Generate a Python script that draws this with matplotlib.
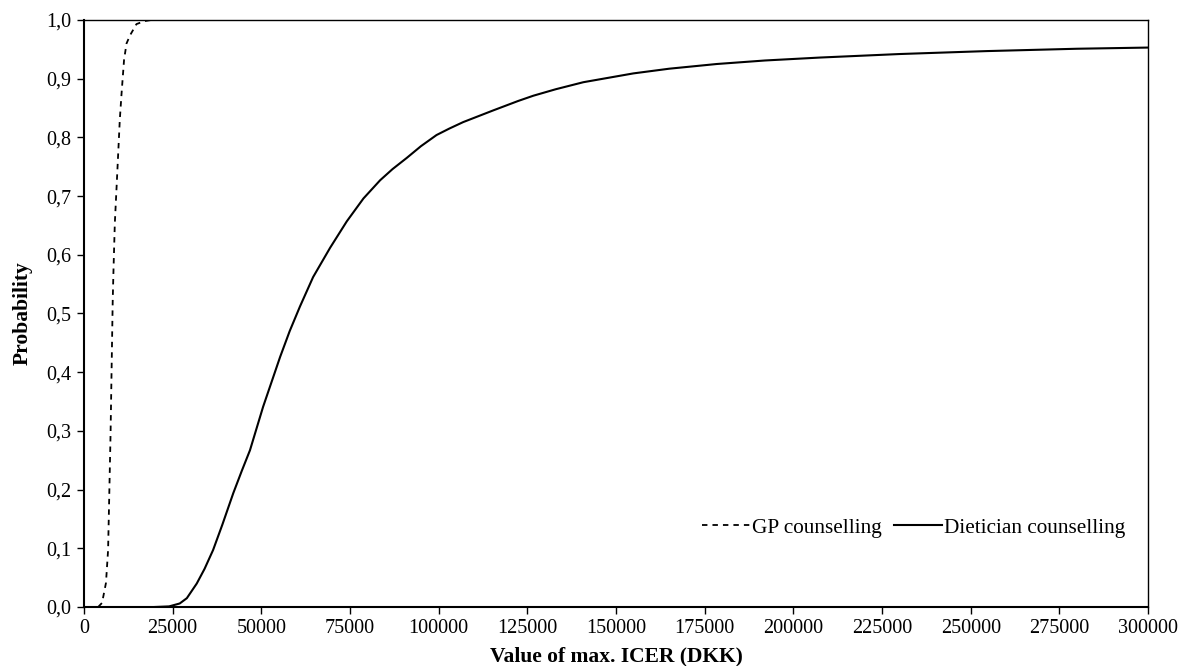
import numpy as np
import matplotlib.pyplot as plt
from matplotlib.ticker import FuncFormatter

# GP counselling acceptability curve
gp_x = [4000, 5100, 6200, 6800, 7100, 7500, 7800, 8100, 8300, 8700, 9200,
        9700, 10100, 10600, 11300, 12000, 13000, 14800, 17000, 19000, 20000]
gp_y = [0.0, 0.007, 0.041, 0.097, 0.182, 0.296, 0.409, 0.52, 0.569, 0.654, 0.716,
        0.779, 0.83, 0.875, 0.932, 0.96, 0.974, 0.993, 0.998, 1.0, 1.0]

# Dietician counselling acceptability curve
diet_x = [20000, 24000, 27000, 29000, 31800, 34000, 36400, 39000, 42100, 44500,
          46800, 50500, 55300, 58000, 60900, 64600, 69400, 74100, 78800, 83500,
          87000, 91000, 95000, 99400, 103000, 106900, 115400, 122400, 126700,
          133000, 140800, 154900, 165000, 178400, 192000, 207500, 230000,
          254500, 280000, 300000]
diet_y = [0.0, 0.001, 0.006, 0.015, 0.04, 0.065, 0.097, 0.14, 0.194, 0.232,
          0.267, 0.341, 0.426, 0.47, 0.512, 0.562, 0.612, 0.657, 0.696, 0.727,
          0.746, 0.765, 0.785, 0.804, 0.815, 0.826, 0.846, 0.862, 0.871,
          0.882, 0.894, 0.909, 0.917, 0.925, 0.931, 0.936, 0.942,
          0.947, 0.951, 0.953]

x_ticks = np.arange(0, 300001, 25000)
y_ticks = np.arange(0, 1.01, 0.1)

plt.rcParams['font.family'] = ['Liberation Serif', 'DejaVu Serif']

fig = plt.figure(figsize=(11.81, 6.66), dpi=100)
ax = fig.add_axes([0.0711, 0.0886, 0.901, 0.8814])

ax.plot(gp_x, gp_y, color='black', lw=1.3, linestyle=(0, (3, 2.8)), label='GP counselling')
ax.plot(diet_x, diet_y, color='black', lw=1.5, label='Dietician counselling')

ax.set_xlim(0, 300000)
ax.set_ylim(0, 1.0)
ax.set_xticks(x_ticks)
ax.set_yticks(y_ticks)
ax.xaxis.set_major_formatter(FuncFormatter(lambda v, p: f'{int(round(v))}'))
ax.yaxis.set_major_formatter(FuncFormatter(lambda v, p: f'{v:.1f}'.replace('.', ',')))
ax.tick_params(direction='out', length=5, width=1, labelsize=14.5, pad=4)

for s in ax.spines.values():
    s.set_linewidth(1.0)
ax.spines['left'].set_linewidth(1.5)
ax.spines['bottom'].set_linewidth(1.5)

ax.set_xlabel('Value of max. ICER (DKK)', fontsize=15.5, fontweight='bold', labelpad=6)
ax.set_ylabel('Probability', fontsize=15.5, fontweight='bold', labelpad=10)

ax.legend(loc='center', bbox_to_anchor=(0.7796, 0.1346), ncol=2, frameon=False,
          fontsize=15.3, handlelength=2.25, handletextpad=0.1, columnspacing=0.6)

fig.savefig('out.png', dpi=100)
